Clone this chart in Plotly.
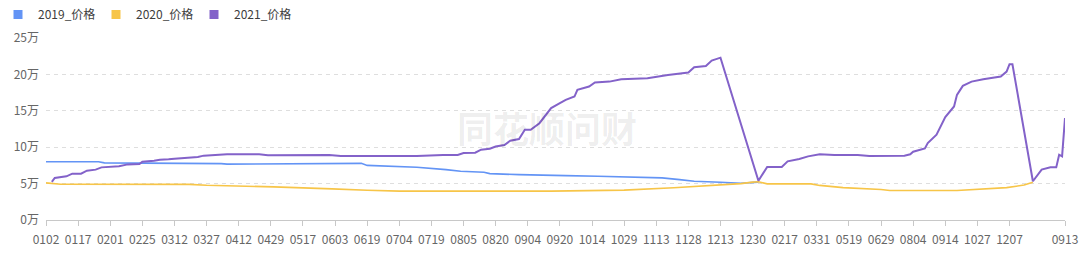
import plotly.graph_objects as go

# ---- x axis (category positions) ----
tick_labels = ["0102", "0117", "0201", "0225", "0312", "0327", "0412", "0429", "0517", "0603",
               "0619", "0704", "0719", "0805", "0820", "0904", "0920", "1014", "1029", "1113",
               "1128", "1213", "1230", "0217", "0331", "0519", "0629", "0804", "0914", "1027",
               "1207", "0913"]
tick_idx = [0, 11, 22, 33, 44, 55, 66, 77, 88, 99,
            110, 121, 132, 143, 154, 165, 176, 187, 198, 209,
            220, 231, 242, 253, 264, 275, 286, 297, 308, 319,
            330, 349]
last_idx = 349

# ---- y axis ----
y_ticks = [0, 5, 10, 15, 20, 25]
y_tick_text = ["0万", "5万", "10万", "15万", "20万", "25万"]

# ---- series (index, value in 万) ----
s2019_idx = [0, 18, 20, 42, 44, 60, 62, 82, 84, 108, 110, 127, 137, 142, 150, 152, 162,
             176, 178, 189, 199, 211, 217, 222, 231, 238, 244]
s2019_val = [8.0, 8.0, 7.85, 7.85, 7.75, 7.75, 7.68, 7.68, 7.75, 7.78, 7.5, 7.25, 6.92, 6.7,
             6.55, 6.37, 6.23, 6.2, 6.1, 6.0, 5.87, 5.78, 5.55, 5.32, 5.18, 5.05, 5.2]

s2020_idx = [0, 5, 49, 55, 78, 87, 98, 110, 121, 173, 198, 215, 227, 238, 242, 244, 247,
             262, 265, 273, 286, 289, 312, 319, 329, 335, 338]
s2020_val = [5.1, 4.92, 4.9, 4.77, 4.55, 4.38, 4.27, 4.09, 3.97, 3.97, 4.1, 4.42, 4.7, 5.0,
             5.2, 5.25, 4.96, 4.96, 4.75, 4.45, 4.18, 4.05, 4.05, 4.18, 4.45, 4.8, 5.2]

s2021_idx = [2, 3, 7, 9, 12, 14, 17, 19, 25, 28, 32, 33, 37, 39, 42, 44, 52, 54, 62, 73,
             76, 87, 97, 101, 127, 136, 141, 143, 147, 149, 152, 154, 157, 159, 162, 164,
             166, 169, 171, 173, 176, 178, 181, 182, 186, 188, 193, 197, 206, 209, 213,
             220, 222, 226, 228, 231, 244, 247, 252, 254, 258, 261, 265, 270, 278, 282,
             294, 296, 297, 301, 302, 305, 308, 311, 312, 314, 317, 321, 327, 329, 330,
             331, 338, 341, 344, 346, 347, 348, 349]
s2021_val = [5.25, 5.78, 6.0, 6.37, 6.37, 6.78, 6.92, 7.23, 7.37, 7.64, 7.7, 8.01, 8.15,
             8.29, 8.33, 8.42, 8.66, 8.84, 9.02, 9.02, 8.88, 8.88, 8.93, 8.79, 8.79, 8.93,
             8.93, 9.2, 9.25, 9.66, 9.79, 10.1, 10.3, 10.89, 11.12, 12.4, 12.4, 13.3, 14.4,
             15.37, 16.05, 16.5, 16.96, 17.88, 18.33, 18.88, 19.01, 19.34, 19.48, 19.7,
             19.93, 20.25, 20.98, 21.16, 21.9, 22.3, 5.4, 7.29, 7.29, 8.06, 8.38, 8.74,
             9.02, 8.93, 8.93, 8.79, 8.84, 9.02, 9.38, 9.84, 10.57, 11.71, 14.14, 15.59,
             17.19, 18.42, 19.01, 19.34, 19.7, 20.38, 21.4, 21.4, 5.32, 6.92, 7.23, 7.23,
             8.97, 8.74, 14.0]

names = ["2019_价格", "2020_价格", "2021_价格"]
colors = ["#6394F5", "#F7C548", "#8362C9"]
widths = [1.6, 1.6, 2]

fig = go.Figure()
series = [(s2019_idx, s2019_val), (s2020_idx, s2020_val), (s2021_idx, s2021_val)]
for (xs, ys), name, c, w in zip(series, names, colors, widths):
    fig.add_trace(go.Scatter(x=xs, y=ys, mode="lines", name=name, showlegend=False,
                             line=dict(color=c, width=w), legendgroup=name))
for name, c in zip(names, colors):
    fig.add_trace(go.Scatter(x=[None], y=[None], mode="markers", name=name, legendgroup=name,
                             marker=dict(symbol="square", size=9, color=c)))

font_fam = "Noto Sans CJK SC, Noto Sans, sans-serif"
fig.update_layout(
    width=1080, height=256,
    margin=dict(l=46, r=15, t=38, b=36, autoexpand=False),
    paper_bgcolor="white", plot_bgcolor="white",
    font=dict(family=font_fam, size=12, color="#666666"),
    showlegend=True,
    legend=dict(orientation="h", x=-48 / 1019, xanchor="left", y=(220 - 14.5) / 182,
                yanchor="middle", font=dict(size=12, color="#3d3d3d"),
                bgcolor="rgba(0,0,0,0)", entrywidth=53, tracegroupgap=0),
    xaxis=dict(range=[0, last_idx], tickmode="array", tickvals=tick_idx, ticktext=tick_labels,
               showgrid=False, zeroline=False, showline=True, linecolor="#c8c8c8", linewidth=1,
               ticks="outside", ticklen=5, tickcolor="#c8c8c8", tickwidth=1,
               ticklabelstandoff=4, automargin=False,
               tickfont=dict(size=12, color="#666666"), tickangle=0),
    yaxis=dict(range=[0, 25], tickmode="array", tickvals=y_ticks, ticktext=y_tick_text,
               showgrid=True, gridcolor="#dedede", griddash="4px,4px", gridwidth=1,
               zeroline=False, showline=False, ticks="", ticklabelstandoff=6, automargin=False,
               tickfont=dict(size=12, color="#666666")),
    annotations=[dict(text="<b>同花顺问财</b>", x=(547 - 46) / 1019, y=(220 - 127) / 182,
                      xref="paper", yref="paper", showarrow=False,
                      font=dict(size=36, color="rgba(0,0,0,0.075)", family=font_fam))],
)

fig.write_html("out.html")
